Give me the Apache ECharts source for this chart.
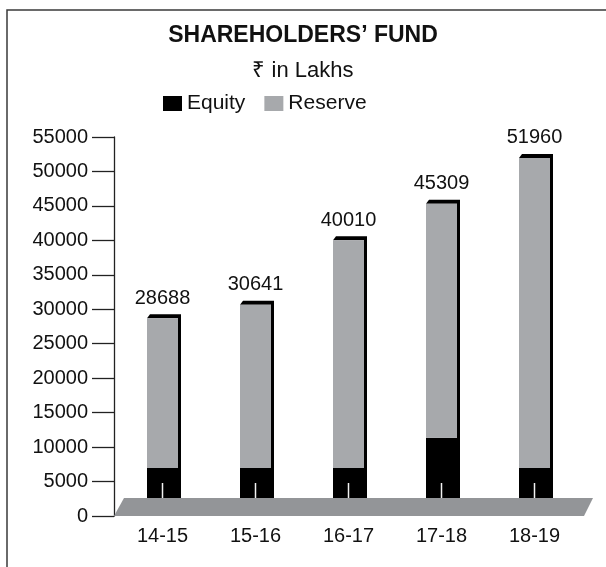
<!DOCTYPE html>
<html>
<head>
<meta charset="utf-8">
<script src="https://cdn.jsdelivr.net/npm/echarts@6/dist/echarts.min.js"></script>
<style>
  html, body { margin: 0; padding: 0; background: #fff; }
  #chart { width: 606px; height: 567px; }
</style>
</head>
<body>
<div id="chart"></div>
<script>
// values (Rs in lakhs)
const years = ['14-15', '15-16', '16-17', '17-18', '18-19']
const equity = [6967, 6967, 6967, 11360, 6967]
const reserve = [21721, 23674, 33043, 33949, 44993]
const totals = [28688, 30641, 40010, 45309, 51960]

const FONT = '"Liberation Sans", Arial, sans-serif'
const LABEL_SIZE = 20
const BAR_W = 31
const DX = 3
const DY = 4
const FLOOR_H = 18

// black extrusion behind each bar (right side + top bevel)
function renderShadow (params, api) {
  const top = api.coord([api.value(0), api.value(1)])
  const base = api.coord([api.value(0), 0])
  const l = top[0] - BAR_W / 2
  const r = top[0] + BAR_W / 2
  return {
    type: 'polygon',
    shape: {
      points: [[l, top[1]], [l + DX, top[1] - DY], [r + DX, top[1] - DY], [r + DX, base[1] - DY], [r, base[1]], [r, top[1]]]
    },
    style: { fill: '#000' }
  }
}

// grey floor slab over the bar feet, with the little white notch on each bar
function renderFloor (params, api) {
  const cs = params.coordSys
  const base = api.coord([api.value(0), 0])
  const children = [{
    type: 'line',
    shape: { x1: base[0], y1: base[1] - FLOOR_H, x2: base[0], y2: base[1] - FLOOR_H - 15 },
    style: { stroke: '#f2f2f2', lineWidth: 1.5 }
  }]
  if (params.dataIndex === 0) {
    children.push({
      type: 'polygon',
      shape: {
        points: [[cs.x - 2, base[1]], [cs.x + 8, base[1] - FLOOR_H], [cs.x + cs.width + 12, base[1] - FLOOR_H], [cs.x + cs.width + 3, base[1]]]
      },
      style: { fill: '#939598' }
    })
  }
  return { type: 'group', children }
}

const chart = echarts.init(document.getElementById('chart'))
chart.setOption({
  animation: false,
  textStyle: { fontFamily: FONT },
  graphic: [{
    type: 'rect',
    shape: { x: 7, y: 10, width: 700, height: 700 },
    style: { fill: 'none', stroke: '#3a3a3a', lineWidth: 1.5 },
    silent: true
  }],
  title: {
    text: 'SHAREHOLDERS’ FUND',
    subtext: '₹ in Lakhs',
    left: 'center',
    top: 19,
    itemGap: 13,
    textStyle: { fontFamily: FONT, fontWeight: 'bold', fontSize: 23, color: '#111' },
    subtextStyle: { fontFamily: FONT, fontSize: 22, color: '#111' }
  },
  legend: {
    data: ['Equity', 'Reserve'],
    left: 163,
    top: 93,
    padding: 0,
    icon: 'rect',
    itemWidth: 19,
    itemHeight: 15,
    itemGap: 19,
    textStyle: { fontFamily: FONT, fontSize: 21, color: '#111' }
  },
  grid: { left: 116, right: 25, top: 137, bottom: 51 },
  xAxis: {
    type: 'category',
    data: years,
    axisLine: { show: false },
    axisTick: { show: false },
    axisLabel: { fontFamily: FONT, fontSize: LABEL_SIZE, color: '#111', margin: 10 }
  },
  yAxis: {
    type: 'value',
    min: 0,
    max: 55000,
    interval: 5000,
    offset: 2,
    splitLine: { show: false },
    axisLine: { show: true, lineStyle: { color: '#222', width: 1.3 } },
    axisTick: { show: true, length: 22, lineStyle: { color: '#222', width: 1.3 } },
    axisLabel: {
      fontFamily: FONT,
      fontSize: LABEL_SIZE,
      color: '#111',
      margin: 26,
      formatter: v => String(v)
    }
  },
  series: [
    {
      name: 'shadow',
      type: 'custom',
      z: 1,
      renderItem: renderShadow,
      data: totals.map((v, i) => [i, v])
    },
    {
      name: 'Equity',
      type: 'bar',
      stack: 'fund',
      barWidth: BAR_W,
      itemStyle: { color: '#000' },
      data: equity
    },
    {
      name: 'Reserve',
      type: 'bar',
      stack: 'fund',
      barWidth: BAR_W,
      itemStyle: { color: '#a7a9ac' },
      label: {
        show: true,
        position: 'top',
        distance: 10,
        fontFamily: FONT,
        fontSize: LABEL_SIZE,
        color: '#111',
        formatter: p => totals[p.dataIndex]
      },
      data: reserve
    },
    {
      name: 'floor',
      type: 'custom',
      z: 5,
      renderItem: renderFloor,
      data: years.map((y, i) => [i])
    }
  ]
})
</script>
</body>
</html>
